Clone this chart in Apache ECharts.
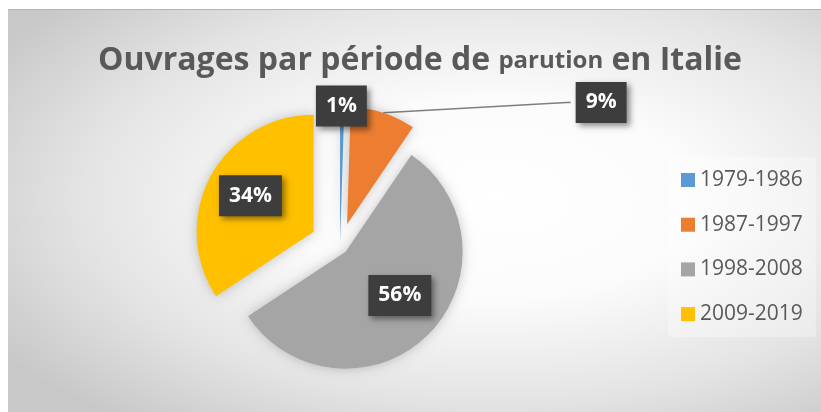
<!DOCTYPE html>
<html>
<head>
<meta charset="utf-8">
<script src="https://cdn.jsdelivr.net/npm/echarts@6/dist/echarts.min.js"></script>
<style>
  html, body { margin: 0; padding: 0; background: #ffffff; }
  #chart { width: 821px; height: 412px; }
</style>
</head>
<body>
<div id="chart"></div>
<script>
// données
const categories = ['1979-1986', '1987-1997', '1998-2008', '2009-2019']
const values = [0.5, 9, 56.2, 34.3]

// style
const colors = ['#5B9BD5', '#ED7D31', '#A5A5A5', '#FFC000']
const explode = [4, 23, 8, 30] // éclatement de chaque part
const labelNudge = [[-31, -19], [0, 0], [11, 0], [-9, -7]]

const chart = echarts.init(document.getElementById('chart'))

const labelBox = {
  color: '#ffffff',
  fontFamily: 'Open Sans',
  fontWeight: 'bold',
  fontSize: 21,
  lineHeight: 21,
  backgroundColor: '#3d3d3d',
  padding: [10, 10],
  shadowColor: 'rgba(0,0,0,0.45)',
  shadowBlur: 6,
  shadowOffsetX: 3,
  shadowOffsetY: 3,
  formatter: '{d}%'
}

// une série par part pour avoir un éclatement différent
const series = categories.map((name, i) => ({
  type: 'pie',
  center: [340, 246],
  radius: 117,
  startAngle: 90,
  clockwise: true,
  selectedMode: 'single',
  selectedOffset: explode[i],
  avoidLabelOverlap: false,
  percentPrecision: 0,
  animation: false,
  emphasis: { disabled: true },
  labelLayout: function (params) {
    const res = { dx: labelNudge[i][0], dy: labelNudge[i][1] }
    const p = params.labelLinePoints
    if (i === 1 && p && p.length === 3) {
      // trait presque droit jusqu'à l'étiquette
      res.labelLinePoints = [p[0], [p[2][0] - 4, p[2][1]], p[2]]
    }
    return res
  },
  data: values.map((v, j) => {
    const mine = j === i
    return {
      name: categories[j],
      value: v,
      selected: mine,
      itemStyle: mine
        ? { color: colors[j], borderWidth: 0, shadowBlur: 12, shadowColor: 'rgba(0,0,0,0.22)' }
        : { color: 'transparent', borderWidth: 0 },
      label: mine
        ? Object.assign({ show: true, position: (j < 2 ? 'outside' : 'inside') }, labelBox)
        : { show: false },
      labelLine: mine && j === 1
        ? { show: true, length: 11, length2: 184, lineStyle: { color: '#7f7f7f', width: 1.5 } }
        : { show: false, length: 0, length2: 0 }
    }
  })
}))

chart.setOption({
  backgroundColor: '#ffffff',
  graphic: [
    {
      type: 'rect',
      x: 8,
      y: 9,
      scaleX: 813 / 403,
      silent: true,
      z: -10,
      shape: { x: 0, y: 0, width: 403, height: 403 },
      style: {
        fill: new echarts.graphic.RadialGradient(0.6, 0.47, 0.72, [
          { offset: 0, color: '#ffffff' },
          { offset: 0.35, color: '#fbfbfb' },
          { offset: 0.7, color: '#e4e4e4' },
          { offset: 1, color: '#c8c8c8' }
        ])
      }
    },
    {
      type: 'line',
      silent: true,
      z: -9,
      shape: { x1: 8, y1: 9.5, x2: 821, y2: 9.5 },
      style: { stroke: '#b5b5b5', lineWidth: 1 }
    }
  ],
  title: {
    text: '{a|Ouvrages par période de }{b|parution}{a| en Italie}',
    left: 415,
    top: 40,
    textAlign: 'center',
    textStyle: {
      rich: {
        a: { fontFamily: 'Open Sans', fontWeight: 'bold', fontSize: 32, color: '#595959' },
        b: { fontFamily: 'Open Sans', fontWeight: 'bold', fontSize: 24, color: '#595959' }
      }
    }
  },
  legend: {
    orient: 'vertical',
    left: 668,
    top: 157,
    padding: [12, 13],
    backgroundColor: 'rgba(255,255,255,0.3)',
    icon: 'rect',
    itemWidth: 14,
    itemHeight: 14,
    itemGap: 22.7,
    selectedMode: false,
    textStyle: { fontFamily: 'Open Sans', fontSize: 21, lineHeight: 22, color: '#595959' },
    data: categories.map((n, i) => ({ name: n, itemStyle: { color: colors[i] } }))
  },
  series: series
})
</script>
</body>
</html>
